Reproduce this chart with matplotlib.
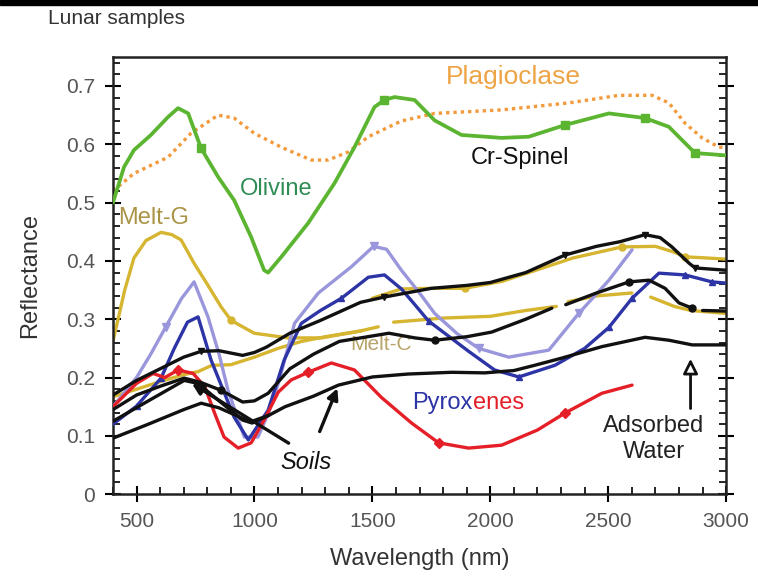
import matplotlib.pyplot as plt
from matplotlib.patches import Rectangle
from matplotlib.ticker import MultipleLocator
import numpy as np

plt.rcParams['font.family'] = ['Liberation Sans', 'DejaVu Sans']

nan = np.nan

# Olivine (green, squares)
olivine_wl = [400, 447, 489, 561, 634, 676, 719, 774, 846, 914, 986, 1041, 1058, 1114, 1228, 1339,
              1424, 1509, 1551, 1594, 1679, 1764, 1878, 2048, 2163, 2316, 2503, 2656, 2757, 2868, 3000]
olivine_r = [0.50, 0.561, 0.59, 0.616, 0.647, 0.662, 0.653, 0.593, 0.544, 0.504, 0.441, 0.384, 0.38,
             0.407, 0.465, 0.533, 0.595, 0.664, 0.676, 0.681, 0.676, 0.641, 0.616, 0.611, 0.613, 0.633,
             0.653, 0.645, 0.63, 0.585, 0.581]
olivine_marks = [774, 1551, 2316, 2656, 2868]

# Plagioclase (orange dotted)
plag_wl = [400, 489, 634, 731, 846, 914, 999, 1114, 1241, 1313, 1398, 1483, 1623, 1764, 2048, 2333,
           2545, 2686, 2757, 2826, 2898, 2970, 3000]
plag_r = [0.52, 0.55, 0.578, 0.619, 0.65, 0.645, 0.619, 0.595, 0.573, 0.573, 0.587, 0.613, 0.64, 0.653,
          0.659, 0.671, 0.684, 0.684, 0.671, 0.636, 0.611, 0.595, 0.595]

# Melt-G (gold)
meltg_wl = [400, 450, 489, 540, 604, 650, 689, 744, 800, 859, 901, 999, 1143, 1284, 1454]
meltg_r = [0.262, 0.35, 0.405, 0.435, 0.449, 0.445, 0.436, 0.396, 0.36, 0.321, 0.298, 0.276, 0.268,
           0.268, 0.28]
meltg_marks = [901]

# Melt-C (gold, broken)
meltc_wl = [400, 500, 600, 700, 760, 820, 900, 1000, 1100, 1200, 1300, 1450, 1525, 1555, 1590, 1800,
            2000, 2150, 2280, 2305, 2330, 2450, 2600, 2640, 2680, 2780, 2850, 3000]
meltc_r = [0.167, 0.18, 0.193, 0.205, 0.21, 0.221, 0.222, 0.235, 0.25, 0.262, 0.27, 0.28, 0.287, nan,
           0.295, 0.302, 0.305, 0.315, 0.322, nan, 0.33, 0.34, 0.345, nan, 0.338, 0.322, 0.315, 0.31]

# upper gold sample
goldup_wl = [1500, 1623, 1760, 1891, 2050, 2200, 2350, 2558, 2700, 2780, 2826, 2920, 3000]
goldup_r = [0.336, 0.352, 0.353, 0.353, 0.365, 0.385, 0.405, 0.424, 0.425, 0.415, 0.407, 0.405, 0.403]
goldup_marks = [1891, 2558, 2826]

# Black spectra (Cr-Spinel / soils)
blacka_wl = [400, 500, 600, 700, 774, 850, 950, 1000, 1050, 1150, 1280, 1450, 1550, 1750, 1900, 2000,
             2150, 2316, 2450, 2550, 2656, 2720, 2770, 2843, 2868, 3000]
blacka_r = [0.17, 0.195, 0.215, 0.235, 0.245, 0.246, 0.238, 0.243, 0.252, 0.276, 0.298, 0.329, 0.338,
            0.353, 0.358, 0.363, 0.38, 0.41, 0.425, 0.433, 0.445, 0.44, 0.424, 0.396, 0.388, 0.384]
blacka_marks = [774, 1550, 2316, 2656, 2868]

blackb_wl = [400, 500, 600, 702, 770, 859, 950, 1000, 1058, 1150, 1250, 1360, 1480, 1570, 1680, 1764,
             1900, 2006, 2150, 2261, 2290, 2320, 2450, 2588, 2673, 2741, 2800, 2856, 2880, 2900, 3000]
blackb_r = [0.145, 0.17, 0.185, 0.199, 0.192, 0.178, 0.158, 0.16, 0.173, 0.215, 0.24, 0.262, 0.27,
            0.276, 0.268, 0.264, 0.27, 0.278, 0.3, 0.319, nan, 0.325, 0.345, 0.364, 0.367, 0.353, 0.328,
            0.319, nan, 0.315, 0.314]
blackb_marks = [859, 1764, 2588, 2856]

blackc_wl = [400, 550, 702, 760, 850, 950, 990, 1060, 1130, 1250, 1356, 1500, 1650, 1836, 1976, 2100,
             2188, 2300, 2473, 2656, 2757, 2856, 3000]
blackc_r = [0.125, 0.16, 0.195, 0.19, 0.16, 0.127, 0.122, 0.135, 0.15, 0.168, 0.187, 0.201, 0.206,
            0.209, 0.208, 0.212, 0.221, 0.233, 0.253, 0.269, 0.264, 0.256, 0.256]

blackd_wl = [400, 550, 700, 774, 850, 950, 990, 1060]
blackd_r = [0.096, 0.12, 0.145, 0.156, 0.148, 0.13, 0.125, 0.135]

# Pyroxenes
lav_wl = [400, 500, 560, 623, 690, 744, 803, 850, 888, 957, 1015, 1060, 1101, 1170, 1271, 1411, 1505,
          1560, 1623, 1700, 1764, 1860, 1951, 2078, 2248, 2375, 2503, 2601]
lav_r = [0.15, 0.2, 0.24, 0.286, 0.335, 0.364, 0.304, 0.24, 0.178, 0.098, 0.098, 0.14, 0.19, 0.293,
         0.345, 0.39, 0.425, 0.42, 0.384, 0.345, 0.31, 0.275, 0.25, 0.235, 0.247, 0.31, 0.367, 0.419]
lav_marks = [623, 1505, 1951, 2375]

blue_wl = [400, 500, 604, 660, 716, 761, 816, 914, 974, 1058, 1126, 1199, 1280, 1369, 1483, 1551, 1623,
           1680, 1738, 1908, 2018, 2121, 2274, 2400, 2503, 2601, 2715, 2826, 2940, 3000]
blue_r = [0.12, 0.151, 0.199, 0.25, 0.295, 0.304, 0.23, 0.132, 0.093, 0.144, 0.23, 0.293, 0.315, 0.336,
          0.372, 0.376, 0.352, 0.325, 0.297, 0.245, 0.213, 0.201, 0.221, 0.25, 0.286, 0.336, 0.379,
          0.376, 0.364, 0.362]
blue_marks = [500, 604, 1369, 1738, 2121, 2503, 2601, 2826, 2940]

red_wl = [400, 500, 570, 620, 676, 740, 790, 830, 871, 931, 986, 1041, 1101, 1156, 1228, 1326, 1424,
          1538, 1666, 1781, 1908, 2048, 2200, 2316, 2473, 2601]
red_r = [0.15, 0.19, 0.207, 0.2, 0.213, 0.207, 0.184, 0.14, 0.098, 0.079, 0.088, 0.127, 0.175, 0.196,
         0.209, 0.225, 0.213, 0.166, 0.122, 0.088, 0.079, 0.084, 0.11, 0.139, 0.173, 0.187]
red_marks = [676, 1228, 1781, 2316]

green = '#5cb531'
orange = '#f39a3c'
gold = '#d6b531'
lavender = '#9a96dc'
dblue = '#2d34a6'
red = '#e51f27'
black = '#111111'

fig = plt.figure(figsize=(7.58, 5.8), dpi=100, facecolor='white')
ax = fig.add_axes([0.149, 0.148, 0.809, 0.754])


def draw(wl, r, color, marker=None, marks=None, ms=6, lw=2.4, ls='-', z=2):
    idx = [wl.index(m) for m in marks] if marks else None
    ax.plot(wl, r, color=color, lw=lw, ls=ls, marker=marker if marks else None,
            markevery=idx, ms=ms, zorder=z, solid_capstyle='round', solid_joinstyle='round')


draw(plag_wl, plag_r, orange, ls=(0, (1, 1.2)), lw=2.4, z=2)
draw(olivine_wl, olivine_r, green, 's', olivine_marks, ms=6, lw=2.7, z=3)
draw(meltc_wl, meltc_r, gold, z=2)
draw(meltg_wl, meltg_r, gold, 'o', meltg_marks, ms=5, z=2)
draw(goldup_wl, goldup_r, gold, 'o', goldup_marks, ms=5, z=2)
draw(lav_wl, lav_r, lavender, 'v', lav_marks, ms=6, z=3)
draw(blue_wl, blue_r, dblue, '^', blue_marks, ms=5, z=3)
draw(red_wl, red_r, red, 'D', red_marks, ms=5, z=3)
draw(blackd_wl, blackd_r, black, z=4)
draw(blackc_wl, blackc_r, black, z=4)
draw(blackb_wl, blackb_r, black, 'o', blackb_marks, ms=5, z=4)
draw(blacka_wl, blacka_r, black, 'v', blacka_marks, ms=5, z=4)

ax.set_xlim(400, 3000)
ax.set_ylim(0, 0.75)
ax.xaxis.set_major_locator(MultipleLocator(500))
ax.xaxis.set_minor_locator(MultipleLocator(100))
ax.yaxis.set_major_locator(MultipleLocator(0.1))
ax.yaxis.set_minor_locator(MultipleLocator(0.02))
ax.set_yticks([0, 0.1, 0.2, 0.3, 0.4, 0.5, 0.6, 0.7])
ax.set_yticklabels(['0', '0.1', '0.2', '0.3', '0.4', '0.5', '0.6', '0.7'])
ax.tick_params(which='major', direction='inout', length=12, width=1.5, left=True, right=True,
               bottom=True, top=False, labelsize=15, labelcolor='#555555', pad=7)
ax.tick_params(which='minor', direction='in', length=5, width=1.2, left=True, right=True,
               bottom=True, top=False)
for s in ax.spines.values():
    s.set_linewidth(1.8)
    s.set_color('#222222')

ax.set_xlabel('Wavelength (nm)', fontsize=17, color='#333333', labelpad=12)
ax.set_ylabel('Reflectance', fontsize=17, color='#333333', labelpad=18)

# labels
ax.text(2099, 0.715, 'Plagioclase', color='#eea445', fontsize=19, ha='center', va='center')
ax.text(1092, 0.523, 'Olivine', color='#2f8c55', fontsize=17, ha='center', va='center')
ax.text(2125, 0.576, 'Cr-Spinel', color='#111111', fontsize=17, ha='center', va='center')
ax.text(420, 0.473, 'Melt-G', color='#ab9345', fontsize=17, ha='left', va='center')
ax.text(1538, 0.257, 'Melt-C', color='#b8a46a', fontsize=15, ha='center', va='center')
pyr = ax.text(1670, 0.156, 'Pyrox', color=dblue, fontsize=17, ha='left', va='center')
ax.annotate('enes', xy=(1, 0), xycoords=pyr, color=red, fontsize=17, ha='left', va='bottom')
ax.text(1220, 0.055, 'Soils', color='#111111', fontsize=17, style='italic', ha='center', va='center')
ax.text(2694, 0.094, 'Adsorbed\nWater', color='#222222', fontsize=17, ha='center', va='center',
        linespacing=1.25)

# arrows
ax.annotate('', xy=(725, 0.192), xytext=(1155, 0.085),
            arrowprops=dict(arrowstyle='-|>', color=black, lw=2.4, mutation_scale=16), zorder=5)
ax.annotate('', xy=(1356, 0.186), xytext=(1272, 0.103),
            arrowprops=dict(arrowstyle='-|>', color=black, lw=2.4, mutation_scale=16), zorder=5)
ax.annotate('', xy=(2849, 0.237), xytext=(2849, 0.142),
            arrowprops=dict(arrowstyle='-|>', fc='white', ec=black, lw=2.0, mutation_scale=22),
            zorder=5)

fig.text(48 / 758, 1 - 19 / 580, 'Lunar samples', fontsize=15, color='#333333', ha='left', va='center')
fig.patches.append(Rectangle((0, 1 - 5 / 580), 1, 5 / 580, transform=fig.transFigure,
                             color='black', zorder=10))

fig.savefig('out.png', dpi=100, facecolor='white')
